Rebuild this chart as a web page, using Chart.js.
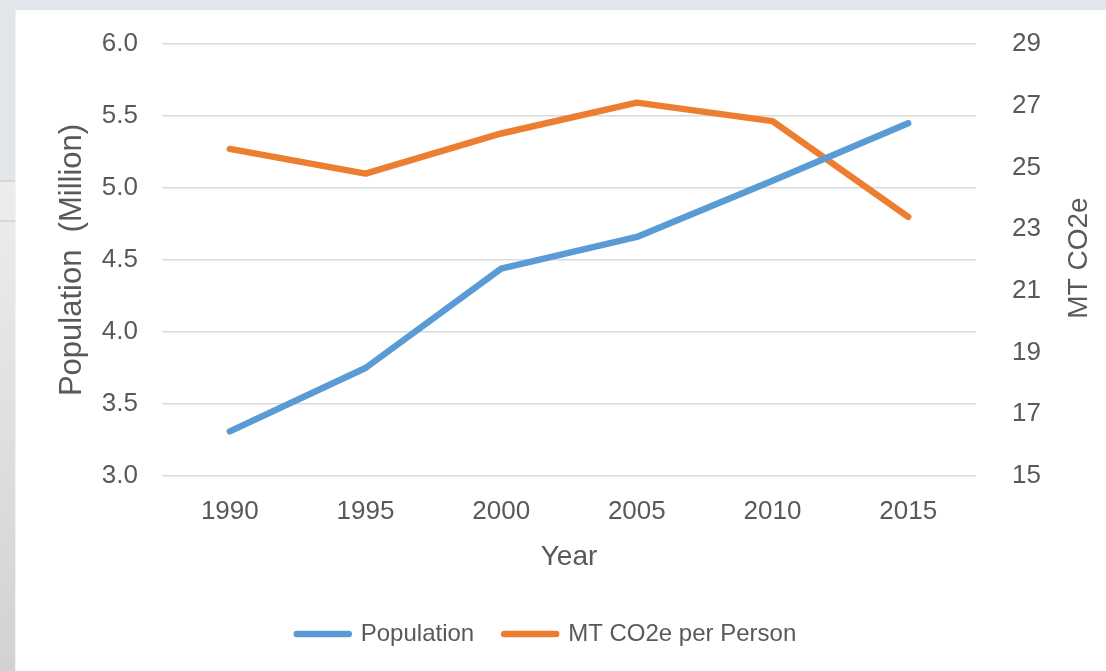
<!DOCTYPE html>
<html>
<head>
<meta charset="utf-8">
<script src="https://cdn.jsdelivr.net/npm/chart.js@4.4.1/dist/chart.umd.min.js"></script>
<style>
  html, body { margin: 0; padding: 0; }
  body { width: 1106px; height: 671px; background: #E2E5E9; position: relative; overflow: hidden; }
  .side { position: absolute; left: 0; top: 180px; width: 15px; height: 491px;
          background: linear-gradient(#EDEDED, #D2D2D2); border-top: 2px solid #D6D6D6; }
  .side2 { position: absolute; left: 0; top: 220px; width: 15px; height: 2px; background: #D8D8D8; }
  .card { position: absolute; left: 15px; top: 10px; width: 1091px; height: 661px; background: #FFFFFF;
          border-left: 1px solid #F2F2F2; box-sizing: border-box; }
  canvas { display: block; }
</style>
</head>
<body>
<div class="side"></div>
<div class="side2"></div>
<div class="card"><canvas id="chart" width="1091" height="661"></canvas></div>
<script>
// Years on the horizontal axis
const years = ['1990', '1995', '2000', '2005', '2010', '2015'];
// Population, in millions (left axis)
const population = [3.31, 3.75, 4.44, 4.66, 5.05, 5.45];
// Emissions per person, MT CO2e (right axis)
const co2PerPerson = [25.6, 24.8, 26.1, 27.1, 26.5, 23.4];

const seriesNames = ['Population', 'MT CO2e per Person'];
const axisTitles = { left: 'Population  (Million)', right: 'MT CO2e', bottom: 'Year' };

const FONT = "'Liberation Sans', Arial, sans-serif";
const TEXT = '#595959';
const BLUE = '#5B9BD5';
const ORANGE = '#ED7D31';
const LINE_W = 6.5;

// Right-hand title reads bottom-to-top, so it is drawn here instead of by the scale
const rightTitle = {
  id: 'rightTitle',
  afterDraw(chart) {
    const { ctx, chartArea } = chart;
    ctx.save();
    ctx.font = '28px ' + FONT;
    ctx.fillStyle = TEXT;
    ctx.textAlign = 'center';
    ctx.textBaseline = 'middle';
    ctx.translate(1063, (chartArea.top + chartArea.bottom) / 2 - 2);
    ctx.rotate(-Math.PI / 2);
    ctx.fillText(axisTitles.right, 0, 0);
    ctx.restore();
  }
};

// Fixed axis width; the layout padding alone decides the plot's top and bottom
function fixWidth(w) {
  return scale => {
    scale.width = w;
    scale.paddingTop = 0;
    scale.paddingBottom = 0;
  };
}

new Chart(document.getElementById('chart'), {
  type: 'line',
  data: {
    labels: years,
    datasets: [
      {
        label: seriesNames[0],
        data: population,
        yAxisID: 'y',
        borderColor: BLUE,
        backgroundColor: BLUE,
        borderWidth: LINE_W,
        borderCapStyle: 'round',
        borderJoinStyle: 'round',
        pointRadius: 0,
        tension: 0
      },
      {
        label: seriesNames[1],
        data: co2PerPerson,
        yAxisID: 'y1',
        borderColor: ORANGE,
        backgroundColor: ORANGE,
        borderWidth: LINE_W,
        borderCapStyle: 'round',
        borderJoinStyle: 'round',
        pointRadius: 0,
        tension: 0
      }
    ]
  },
  options: {
    responsive: false,
    animation: false,
    events: [],
    layout: { padding: { top: 34, bottom: 15, left: 0, right: 30 } },
    scales: {
      x: {
        offset: true,
        grid: { display: false, drawTicks: false },
        border: { display: false },
        ticks: { color: TEXT, font: { family: FONT, size: 26 }, padding: 20, maxRotation: 0 },
        title: { display: true, text: axisTitles.bottom, color: TEXT,
                 font: { family: FONT, size: 28 }, padding: { top: 0, bottom: 18 } },
        afterFit(scale) { scale.height = 116; }
      },
      y: {
        position: 'left',
        min: 3.0,
        max: 6.0,
        grid: { color: '#D9D9D9', lineWidth: 1.6, drawTicks: false },
        border: { display: false },
        ticks: {
          stepSize: 0.5,
          color: TEXT,
          font: { family: FONT, size: 26 },
          padding: 24,
          callback: v => v.toFixed(1)
        },
        title: { display: true, text: axisTitles.left, color: TEXT,
                 font: { family: FONT, size: 31 }, padding: { top: 38, bottom: 0 } },
        afterFit: fixWidth(146)
      },
      y1: {
        position: 'right',
        min: 15,
        max: 29,
        grid: { display: false, drawTicks: false },
        border: { display: false },
        ticks: { stepSize: 2, color: TEXT, font: { family: FONT, size: 26 }, padding: 36 },
        afterFit: fixWidth(101)
      }
    },
    plugins: {
      legend: {
        position: 'bottom',
        labels: {
          color: TEXT,
          font: { family: FONT, size: 24 },
          boxWidth: 52,
          boxHeight: 0,
          padding: 30
        }
      },
      tooltip: { enabled: false }
    }
  },
  plugins: [rightTitle]
});
</script>
</body>
</html>
